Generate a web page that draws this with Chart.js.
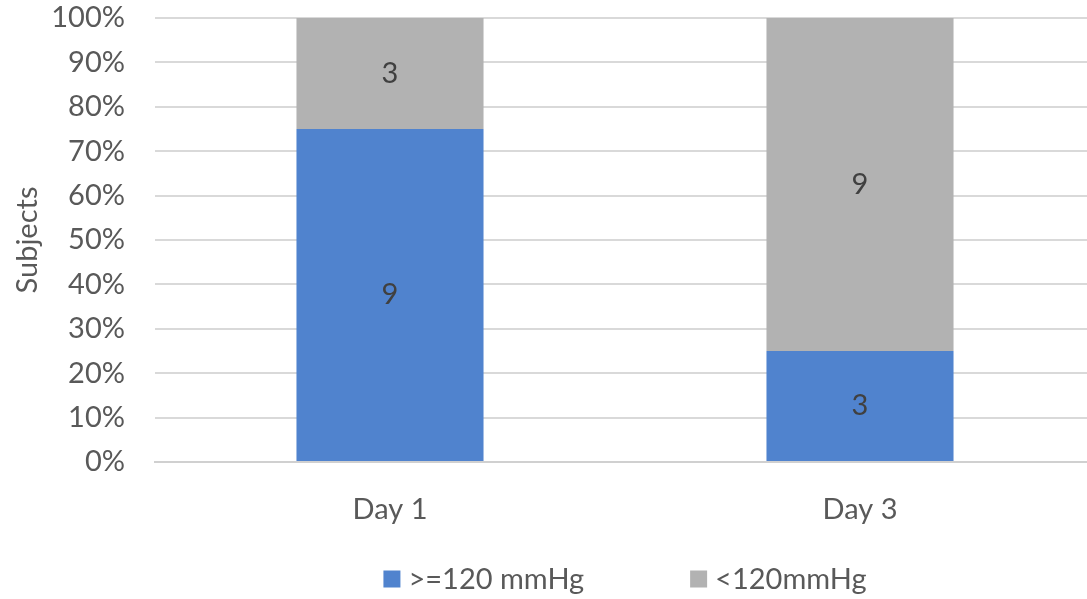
<!DOCTYPE html>
<html>
<head>
<meta charset="utf-8">
<script src="https://cdn.jsdelivr.net/npm/chart.js@4/dist/chart.umd.min.js"></script>
<style>
  html, body { margin: 0; padding: 0; background: #fff; }
  #wrap { width: 1087px; height: 599px; overflow: hidden; position: relative; }
  #inner { width: 1095px; height: 599px; position: absolute; left: 0; top: 0; }
</style>
</head>
<body>
<div id="wrap"><div id="inner"><canvas id="subjectsChart"></canvas></div></div>
<script>
// counts of subjects per day
const days = ['Day 1', 'Day 3'];
const highCounts = [9, 3];   // >=120 mmHg
const lowCounts = [3, 9];    // <120mmHg
const seriesNames = ['>=120 mmHg', '<120mmHg'];
const seriesColors = ['#5083CE', '#B2B2B2'];

const totals = days.map((d, i) => highCounts[i] + lowCounts[i]);
const toPct = (arr) => arr.map((v, i) => v / totals[i] * 100);

const textColor = '#595959';
const fontFamily = 'Lato, "Open Sans", sans-serif';
const fontSize = 29;

// writes the raw count in the middle of every segment
const countLabels = {
  id: 'countLabels',
  afterDatasetsDraw(chart) {
    const c = chart.ctx;
    c.save();
    c.font = fontSize + 'px ' + fontFamily;
    c.fillStyle = '#404040';
    c.textAlign = 'center';
    c.textBaseline = 'middle';
    chart.data.datasets.forEach((ds, di) => {
      chart.getDatasetMeta(di).data.forEach((bar, i) => {
        const p = bar.getCenterPoint();
        c.fillText(String(ds.counts[i]), p.x, p.y);
      });
    });
    c.restore();
  }
};

// legend row under the axis, centred on the plot area (built-in one pads vertically too)
const bottomLegend = {
  id: 'bottomLegend',
  afterDraw(chart) {
    const c = chart.ctx;
    const box = 17, gapText = 8, gapItem = 106;
    const y = 579;
    c.save();
    c.font = fontSize + 'px ' + fontFamily;
    const items = chart.data.datasets.map(ds => ({
      text: ds.label, color: ds.backgroundColor, w: c.measureText(ds.label).width
    }));
    let total = 0;
    items.forEach((it, i) => { total += box + gapText + it.w + (i ? gapItem : 0); });
    const area = chart.chartArea;
    let x = (area.left + area.right) / 2 - total / 2;
    c.textBaseline = 'middle';
    c.textAlign = 'left';
    items.forEach(it => {
      c.fillStyle = it.color;
      c.fillRect(x, y - box / 2, box, box);
      c.fillStyle = textColor;
      c.fillText(it.text, x + box + gapText, y + 1);
      x += box + gapText + it.w + gapItem;
    });
    c.restore();
  }
};

const ctx = document.getElementById('subjectsChart');

new Chart(ctx, {
  type: 'bar',
  data: {
    labels: days,
    datasets: [
      {
        label: seriesNames[0],
        data: toPct(highCounts),
        counts: highCounts,
        backgroundColor: seriesColors[0],
        borderWidth: 0,
        categoryPercentage: 0.398,
        barPercentage: 1.0
      },
      {
        label: seriesNames[1],
        data: toPct(lowCounts),
        counts: lowCounts,
        backgroundColor: seriesColors[1],
        borderWidth: 0,
        categoryPercentage: 0.398,
        barPercentage: 1.0
      }
    ]
  },
  options: {
    responsive: true,
    maintainAspectRatio: false,
    animation: false,
    layout: { padding: { left: 0, top: 0, right: 0, bottom: 57 } },
    plugins: {
      tooltip: { enabled: false },
      legend: { display: false }
    },
    scales: {
      x: {
        stacked: true,
        grid: { display: false },
        border: { color: '#D0D0D0', width: 2 },
        ticks: {
          color: textColor,
          font: { family: fontFamily, size: fontSize },
          padding: 22
        },
        afterFit(scale) { scale.height = 80; }
      },
      y: {
        stacked: true,
        min: 0,
        max: 100,
        grid: { color: '#D9D9D9', lineWidth: 2, drawTicks: false },
        border: { display: false },
        ticks: {
          stepSize: 10,
          autoSkip: false,
          color: textColor,
          font: { family: fontFamily, size: fontSize },
          padding: 30,
          callback: (v) => v + '%'
        },
        title: {
          display: true,
          text: 'Subjects',
          color: textColor,
          font: { family: fontFamily, size: fontSize },
          padding: { top: 10, bottom: 0 }
        },
        afterFit(scale) {
          scale.width = 155;
          scale.paddingTop = 18;
          scale.paddingBottom = 0;
        }
      }
    }
  },
  plugins: [countLabels, bottomLegend]
});
</script>
</body>
</html>
